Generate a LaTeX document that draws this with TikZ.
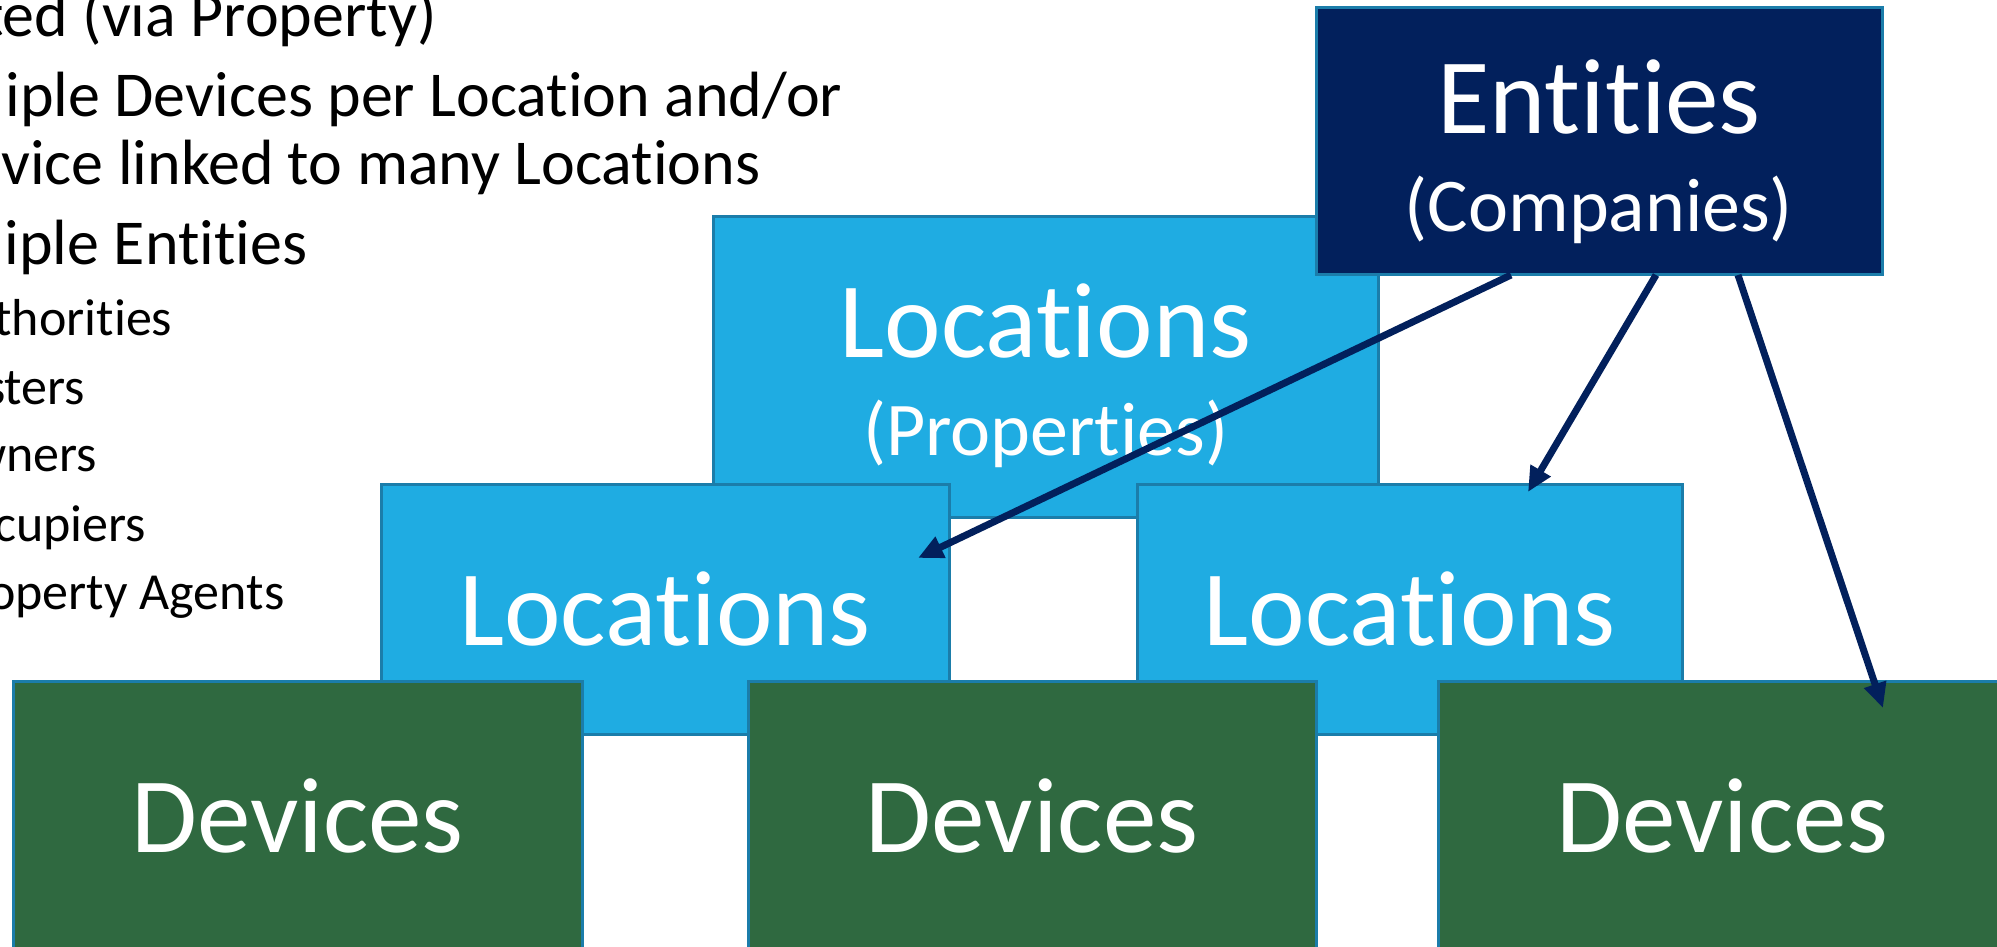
\documentclass[tikz,border=0pt]{standalone}
\usepackage{fontspec}
\setmainfont[Ligatures=NoCommon]{Carlito}
\usetikzlibrary{arrows.meta}
\definecolor{entblue}{HTML}{02205C}
\definecolor{locblue}{HTML}{1FACE2}
\definecolor{devgreen}{HTML}{2F6940}
\definecolor{boxline}{HTML}{1B7DAA}

\begin{document}
\begin{tikzpicture}
   \tikzset{BoxStyle/.style={draw=boxline, line width=0.03cm, inner sep=0, outer sep=0, anchor=north west, align=center, text=white, font=\fontsize{30.5}{27.9}\selectfont}}
   \tikzset{EdgeStyle/.style={->, >={Triangle[length=0.25cm,width=0.22cm]}, draw=entblue, line width=0.07cm}}
   \tikzset{TextStyle/.style={anchor=base east, inner sep=0, font=\fontsize{18.2}{22}\selectfont}}
   \tikzset{SubStyle/.style={TextStyle, font=\fontsize{14.8}{18}\selectfont}}
   \useasboundingbox (0,0) rectangle (19.97,-9.47);
   % bullet text, cut off at the left
   \node[TextStyle] (l1) at (4.37,-0.37) {ted (via Property)};
   \node[TextStyle] (l2) at (8.43,-1.17) {iple Devices per Location and/or};
   \node[TextStyle] (l3) at (7.61,-1.85) {vice linked to many Locations};
   \node[TextStyle] (l4) at (3.08,-2.65) {iple Entities};
   \node[SubStyle] (s1) at (1.73,-3.35) {thorities};
   \node[SubStyle] (s2) at (0.86,-4.04) {sters};
   \node[SubStyle] (s3) at (0.98,-4.71) {wners};
   \node[SubStyle] (s4) at (1.47,-5.41) {cupiers};
   \node[SubStyle] (s5) at (2.85,-6.09) {operty Agents};
   % boxes
   \node[BoxStyle, fill=locblue, minimum width=6.65cm, minimum height=3cm] (props) at (7.13,-2.17) {\rule{0pt}{0.92cm}Locations\\{\fontsize{21.6}{26}\selectfont (Properties)}};
   \node[BoxStyle, fill=entblue, minimum width=5.66cm, minimum height=2.67cm] (ent) at (13.16,-0.08) {\rule{0pt}{0.95cm}Entities\\{\fontsize{21.6}{26}\selectfont (Companies)}};
   \node[BoxStyle, fill=locblue, minimum width=5.68cm, minimum height=2.5cm] (locL) at (3.81,-4.84) {Locations};
   \node[BoxStyle, fill=locblue, minimum width=5.45cm, minimum height=2.5cm] (locR) at (11.37,-4.84) {Locations};
   \node[BoxStyle, fill=devgreen, minimum width=5.69cm, minimum height=2.7cm] (devL) at (0.13,-6.81) {Devices};
   \node[BoxStyle, fill=devgreen, minimum width=5.68cm, minimum height=2.7cm] (devM) at (7.48,-6.81) {Devices};
   \node[BoxStyle, fill=devgreen, minimum width=5.69cm, minimum height=2.7cm] (devR) at (14.38,-6.81) {Devices};
   % links
   \draw[EdgeStyle] ([xshift=1.95cm]ent.south west) -- ([xshift=-0.31cm,yshift=-0.74cm]locL.north east);
   \draw[EdgeStyle] ([xshift=3.40cm]ent.south west) -- ([xshift=3.91cm,yshift=-0.08cm]locR.north west);
   \draw[EdgeStyle] ([xshift=4.22cm]ent.south west) -- ([xshift=4.45cm,yshift=-0.27cm]devR.north west);
\end{tikzpicture}
\end{document}
